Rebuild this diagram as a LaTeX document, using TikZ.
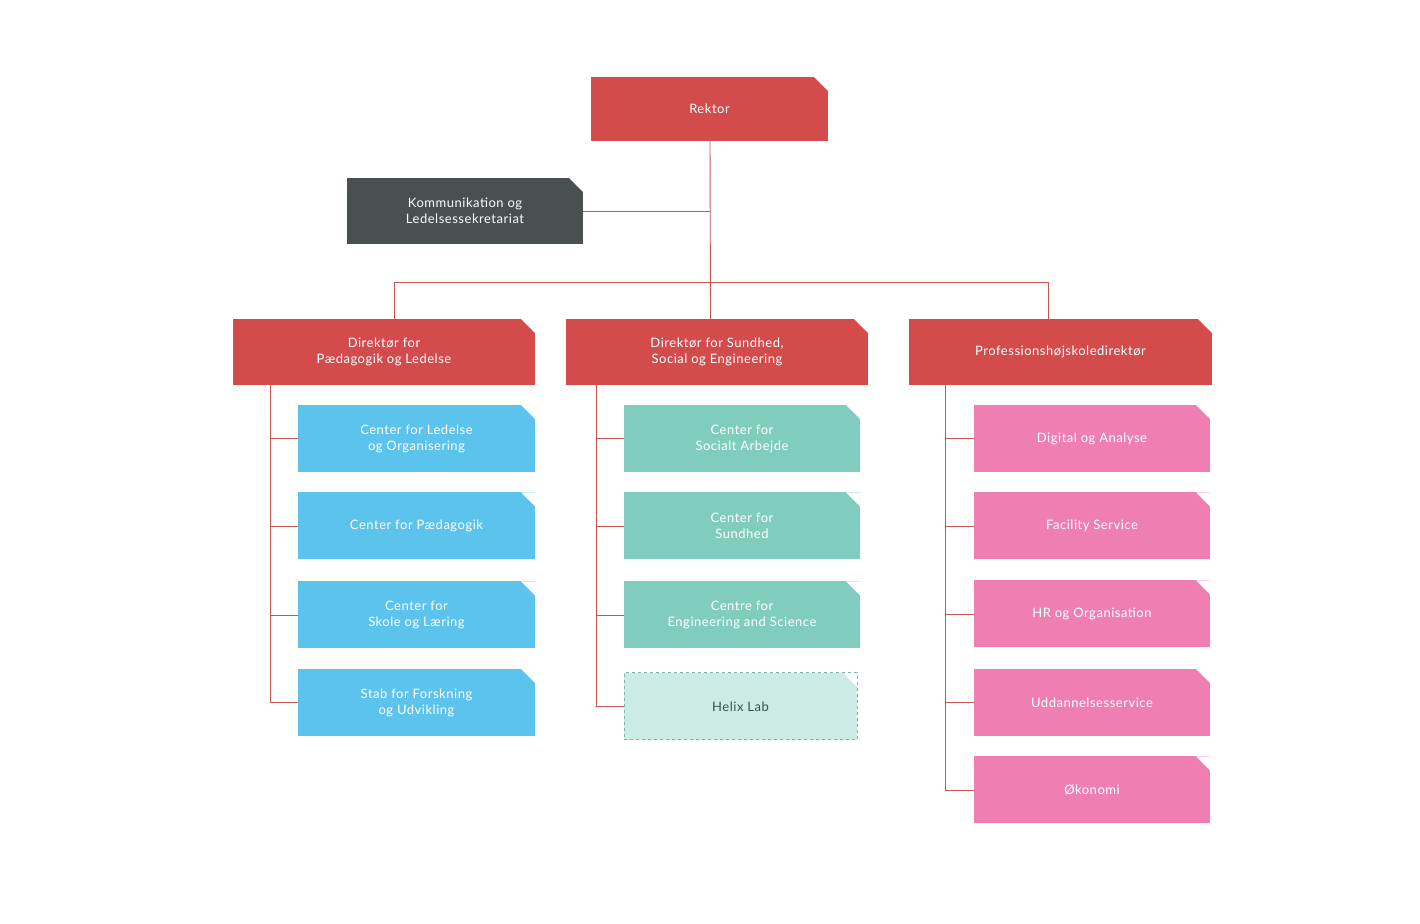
\documentclass[tikz,border=0pt]{standalone}
\usepackage{fontspec}
\setmainfont{Lato}[LetterSpace=4]
\begin{document}
\begin{tikzpicture}[x=1pt,y=1pt,
  box/.style={draw=none,text=white,font=\fontsize{13}{16}\selectfont,align=center,inner sep=0pt,
    path picture={\fill[white] ([xshift=-14pt]path picture bounding box.north east) -- (path picture bounding box.north east) -- ([yshift=-14pt]path picture bounding box.north east) -- cycle;}},
  red/.style={box,fill=boxred},
  blue/.style={box,fill=boxblue,minimum width=237,minimum height=67},
  teal/.style={box,fill=boxteal,minimum width=236,minimum height=67},
  pink/.style={box,fill=boxpink,minimum width=236,minimum height=67},
  conn/.style={draw=linered,line width=0.9pt}]
\definecolor{boxred}{HTML}{D34B4B}
\definecolor{boxblue}{HTML}{5CC3EC}
\definecolor{boxteal}{HTML}{80CDBE}
\definecolor{boxpink}{HTML}{F07FB1}
\definecolor{linered}{HTML}{C8554F}
\definecolor{dark}{HTML}{4A4F50}
\useasboundingbox (0,0) rectangle (1420,923);
\node[red,minimum width=237,minimum height=64] (rektor) at (709.5,814) {Rektor};
\node[box,fill=dark,minimum width=236,minimum height=66] (komm) at (465,712) {Kommunikation og\\Ledelsessekretariat};
\node[red,minimum width=302,minimum height=66] (d1) at (384,571) {Direktør for\\Pædagogik og Ledelse};
\node[red,minimum width=302,minimum height=66] (d2) at (717,571) {Direktør for Sundhed,\\Social og Engineering};
\node[red,minimum width=303,minimum height=66] (d3) at (1060.5,571) {Professionshøjskoledirektør};
\node[blue] (a1) at (416.5,484.5) {Center for Ledelse\\og Organisering};
\node[blue] (a2) at (416.5,397) {Center for Pædagogik};
\node[blue] (a3) at (416.5,308) {Center for\\Skole og Læring};
\node[blue] (a4) at (416.5,220.5) {Stab for Forskning\\og Udvikling};
\node[teal] (b1) at (742,484.5) {Center for\\Socialt Arbejde};
\node[teal] (b2) at (742,397) {Center for\\Sundhed};
\node[teal] (b3) at (742,308) {Centre for\\Engineering and Science};
\node[box,fill=boxteal!40,draw=boxteal!90!black,dashed,line width=1pt,text=boxteal!40!black,minimum width=233,minimum height=67] (b4) at (740.5,216.5) {Helix Lab};
\node[pink] (c1) at (1092,484.5) {Digital og Analyse};
\node[pink] (c2) at (1092,397) {Facility Service};
\node[pink] (c3) at (1092,309) {HR og Organisation};
\node[pink] (c4) at (1092,220.5) {Uddannelsesservice};
\node[pink] (c5) at (1092,133) {Økonomi};
\draw[conn] ([xshift=0.5]rektor.south) -- ([xshift=-6.5]d2.north);
\draw[conn] (komm.east) -- ++(127,0);
\draw[conn] ([xshift=10]d1.north) -- ++(0,36) -| ([xshift=-12.5]d3.north);
\foreach \c in {a1,a2,a3,a4} \draw[conn] ([xshift=38]d1.south west) |- (\c.west);
\foreach \c in {b1,b2,b3,b4} \draw[conn] ([xshift=31]d2.south west) |- (\c.west);
\foreach \c in {c1,c2,c3,c4,c5} \draw[conn] ([xshift=37]d3.south west) |- (\c.west);
\end{tikzpicture}
\end{document}
